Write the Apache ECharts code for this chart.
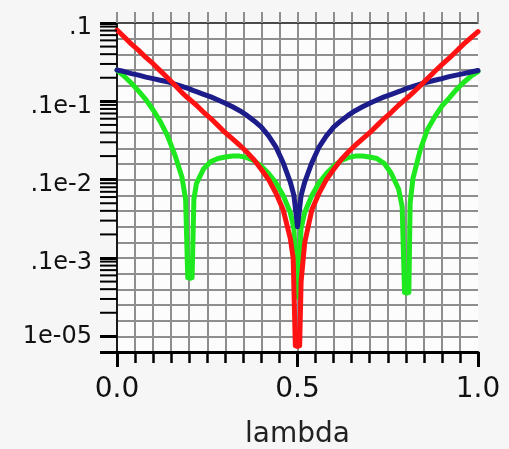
<!DOCTYPE html>
<html>
<head>
<meta charset="utf-8">
<script src="https://cdn.jsdelivr.net/npm/echarts@6/dist/echarts.min.js"></script>
<style>
  html, body { margin: 0; padding: 0; background: #f6f6f6; }
  #chart { width: 509px; height: 449px; }
</style>
</head>
<body>
<div id="chart"></div>
<script>
// Blue curve: lambda samples and values
const blueLambda = [
  0.00, 0.02, 0.04, 0.06, 0.08, 0.10, 0.12, 0.14, 0.16, 0.18,
  0.19, 0.20, 0.21,
  0.22, 0.24, 0.26, 0.28, 0.30, 0.32, 0.34, 0.36, 0.38, 0.40, 0.42, 0.44, 0.46, 0.48,
  0.49, 0.50, 0.51,
  0.52, 0.54, 0.56, 0.58, 0.60, 0.62, 0.64, 0.66, 0.68, 0.70, 0.72, 0.74, 0.76, 0.78,
  0.79, 0.80, 0.81,
  0.82, 0.84, 0.86, 0.88, 0.90, 0.92, 0.94, 0.96, 0.98, 1.00
];
const blueValues = [
  0.0251, 0.0240, 0.0226, 0.0216, 0.0204, 0.0195, 0.0186, 0.0178, 0.0166, 0.0155,
  0.0150, 0.0145, 0.0138,
  0.0133, 0.0123, 0.0114, 0.0104, 0.00944, 0.00851, 0.00759, 0.00661, 0.00562, 0.00468, 0.00363, 0.00263, 0.00166, 0.000933,
  0.000631, 0.000251, 0.000631,
  0.000933, 0.00166, 0.00263, 0.00363, 0.00468, 0.00562, 0.00661, 0.00759, 0.00851, 0.00944, 0.0104, 0.0114, 0.0123, 0.0133,
  0.0138, 0.0145, 0.0150,
  0.0155, 0.0166, 0.0176, 0.0186, 0.0195, 0.0207, 0.0216, 0.0226, 0.0237, 0.0248
];

// Red curve: a narrow, flat-bottomed notch at lambda = 0.5
const redLambda = [
  0.00, 0.02, 0.04, 0.06, 0.08, 0.10, 0.12, 0.14, 0.16, 0.18,
  0.19, 0.20, 0.21,
  0.22, 0.24, 0.26, 0.28, 0.30, 0.32, 0.34, 0.36, 0.38, 0.40, 0.42, 0.44, 0.46, 0.48,
  0.488, 0.494, 0.50, 0.506, 0.51,
  0.52, 0.54, 0.56, 0.58, 0.60, 0.62, 0.64, 0.66, 0.68, 0.70, 0.72, 0.74, 0.76, 0.78,
  0.79, 0.80, 0.81,
  0.82, 0.84, 0.86, 0.88, 0.90, 0.92, 0.94, 0.96, 0.98, 1.00
];
const redValues = [
  0.0813, 0.0661, 0.0537, 0.0447, 0.0363, 0.0302, 0.0245, 0.0200, 0.0162, 0.0129,
  0.0117, 0.0107, 0.00977,
  0.00891, 0.00724, 0.00603, 0.00490, 0.00398, 0.00331, 0.00275, 0.00224, 0.00178, 0.00135, 0.00100, 0.000676, 0.000417, 0.000178,
  0.000100, 0.00000759, 0.00000741, 0.00000759, 0.0000501,
  0.000158, 0.000417, 0.000676, 0.00100, 0.00135, 0.00178, 0.00224, 0.00275, 0.00331, 0.00398, 0.00490, 0.00603, 0.00724, 0.00891,
  0.00977, 0.0107, 0.0117,
  0.0129, 0.0158, 0.0195, 0.0240, 0.0295, 0.0355, 0.0437, 0.0537, 0.0646, 0.0776
];

// Green curve: notches near 0.2, 0.5 and 0.8
const greenLambda = [
  0.00, 0.02, 0.04, 0.06, 0.08, 0.10, 0.12, 0.14, 0.16, 0.18,
  0.19, 0.196, 0.202, 0.208, 0.213,
  0.22, 0.24, 0.26, 0.28, 0.30, 0.32, 0.34, 0.36, 0.38, 0.40, 0.42, 0.44, 0.46, 0.48,
  0.49, 0.50, 0.51,
  0.52, 0.54, 0.56, 0.58, 0.60, 0.62, 0.64, 0.66, 0.68, 0.70, 0.72, 0.74, 0.76, 0.78,
  0.79, 0.7965, 0.8025, 0.8085, 0.812,
  0.82, 0.84, 0.86, 0.88, 0.90, 0.92, 0.94, 0.96, 0.98, 1.00
];
const greenValues = [
  0.0251, 0.0209, 0.0170, 0.0135, 0.0105, 0.00776, 0.00550, 0.00363, 0.00209, 0.00107,
  0.000562, 0.0000562, 0.0000550, 0.0000562, 0.000562,
  0.000891, 0.00138, 0.00170, 0.00186, 0.00195, 0.00200, 0.00200, 0.00191, 0.00174, 0.00148, 0.00120, 0.000912, 0.000631, 0.000380,
  0.000240, 0.0000316, 0.000240,
  0.000380, 0.000631, 0.000912, 0.00120, 0.00148, 0.00174, 0.00191, 0.00200, 0.00200, 0.00195, 0.00186, 0.00162, 0.00120, 0.000759,
  0.000447, 0.0000363, 0.0000355, 0.0000363, 0.000501,
  0.00105, 0.00240, 0.00437, 0.00631, 0.00871, 0.0110, 0.0141, 0.0174, 0.0209, 0.0240
];

// Axis ticks and their labels
const yDecades = [1e-5, 1e-4, 1e-3, 1e-2, 1e-1];
const yTickLabels = ['1e-05', '.1e-3', '.1e-2', '.1e-1', '.1'];
const xTickValues = [0, 0.5, 1];
const xTickLabels = ['0.0', '0.5', '1.0'];
const xName = 'lambda';

// log10 range of the vertical axis
const logMin = -5.2;
const logMax = -1;

// minor log ticks 2..9 inside every decade below the top one
const minorTicks = [];
for (let i = 0; i < yDecades.length - 1; i++) {
  for (let n = 2; n <= 9; n++) minorTicks.push([0, yDecades[i] * n]);
}

const FONT = 'DejaVu Sans';
const GRID_GRAY = '#8e8e8e';

function pairs(xs, ys) { return xs.map((x, i) => [x, ys[i]]); }

function yLabel(v) {
  const lg = Math.log10(v);
  const e = Math.round(lg);
  if (Math.abs(lg - e) > 1e-6) return '';
  const idx = yDecades.findIndex(d => Math.abs(Math.log10(d) - e) < 1e-6);
  if (idx < 0) return '';
  return idx === 0 ? '{n|' + yTickLabels[idx] + '}' : '{s|' + yTickLabels[idx] + '}';
}

function xLabel(v) {
  const idx = xTickValues.findIndex(t => Math.abs(t - v) < 1e-9);
  return idx < 0 ? '' : xTickLabels[idx];
}

const chart = echarts.init(document.getElementById('chart'), null, { renderer: 'canvas' });

chart.setOption({
  backgroundColor: '#f6f6f6',
  animation: false,
  textStyle: { fontFamily: FONT },
  grid: {
    left: 117, right: 31, top: 23, bottom: 97,
    containLabel: false, outerBoundsMode: 'none',
    show: true, backgroundColor: '#fcfcfc', borderWidth: 0
  },
  xAxis: [
    {
      // bottom axis: minor ticks every 0.05 and the labels
      type: 'value', position: 'bottom', min: 0, max: 1, interval: 0.05,
      axisLine: { show: true, lineStyle: { color: '#000', width: 3 } },
      axisTick: { show: true, inside: false, length: 11, lineStyle: { color: '#000', width: 2.5 } },
      axisLabel: {
        show: true, formatter: xLabel, margin: 24,
        fontFamily: FONT, fontSize: 28, color: '#111'
      },
      splitLine: { show: false },
      name: xName, nameLocation: 'middle', nameGap: 69,
      nameTextStyle: { fontFamily: FONT, fontSize: 28, color: '#222' }
    },
    {
      // bottom axis: longer ticks at 0, 0.5 and 1
      type: 'value', position: 'bottom', min: 0, max: 1, interval: 0.5,
      axisLine: { show: false },
      axisTick: { show: true, inside: false, length: 15, lineStyle: { color: '#000', width: 3 } },
      axisLabel: { show: false },
      splitLine: { show: false }
    },
    {
      // top border with vertical grid lines poking above it
      type: 'value', position: 'top', min: 0, max: 1, interval: 0.05,
      axisLine: { show: true, lineStyle: { color: '#111', width: 1.5 } },
      axisTick: { show: true, inside: false, length: 11, lineStyle: { color: GRID_GRAY, width: 2 } },
      axisLabel: { show: false },
      splitLine: { show: true, showMinLine: false, showMaxLine: false, lineStyle: { color: GRID_GRAY, width: 2 } }
    }
  ],
  yAxis: [
    {
      type: 'log', logBase: 10, position: 'left',
      min: Math.pow(10, logMin), max: Math.pow(10, logMax),
      axisLine: { show: true, lineStyle: { color: '#000', width: 2 } },
      axisTick: { show: true, inside: false, length: 17, lineStyle: { color: '#000', width: 3 } },
      axisLabel: {
        show: true, formatter: yLabel, margin: 25,
        showMinLabel: true, showMaxLabel: true,
        fontFamily: FONT, fontSize: 24, color: '#111',
        rich: {
          s: { fontFamily: FONT, fontSize: 24, color: '#111', padding: [10, 0, 0, 0] },
          n: { fontFamily: FONT, fontSize: 24, color: '#111', padding: [1, 0, 0, 0] }
        }
      },
      splitLine: { show: false },
      minorTick: { show: false },
      minorSplitLine: { show: false }
    },
    {
      // horizontal grid: five lines per decade, plus the right border
      type: 'value', position: 'right', min: logMin, max: logMax, interval: 0.2,
      axisLine: { show: true, lineStyle: { color: '#222', width: 1.5 } },
      axisTick: { show: false },
      axisLabel: { show: false },
      splitLine: { show: true, showMinLine: false, showMaxLine: false, lineStyle: { color: GRID_GRAY, width: 2 } }
    }
  ],
  series: [
    {
      type: 'line', name: 'green', xAxisIndex: 0, yAxisIndex: 0,
      data: pairs(greenLambda, greenValues), showSymbol: false, symbol: 'none',
      lineStyle: { color: '#1ee81e', width: 5, join: 'round', cap: 'round' }, z: 3
    },
    {
      type: 'line', name: 'blue', xAxisIndex: 0, yAxisIndex: 0,
      data: pairs(blueLambda, blueValues), showSymbol: false, symbol: 'none',
      lineStyle: { color: '#1c1c8a', width: 5, join: 'round', cap: 'round' }, z: 4
    },
    {
      type: 'line', name: 'red', xAxisIndex: 0, yAxisIndex: 0,
      data: pairs(redLambda, redValues), showSymbol: false, symbol: 'none',
      lineStyle: { color: '#ff1212', width: 5, join: 'round', cap: 'round' }, z: 5
    },
    {
      // minor log ticks on the left axis
      type: 'custom', name: 'minor ticks', xAxisIndex: 0, yAxisIndex: 0,
      data: minorTicks, clip: false, silent: true, z: 6,
      renderItem: function (params, api) {
        const p = api.coord([api.value(0), api.value(1)]);
        return {
          type: 'line',
          shape: { x1: p[0] - 17, y1: p[1], x2: p[0], y2: p[1] },
          style: { stroke: '#000', lineWidth: 2 }
        };
      }
    }
  ]
});
</script>
</body>
</html>
